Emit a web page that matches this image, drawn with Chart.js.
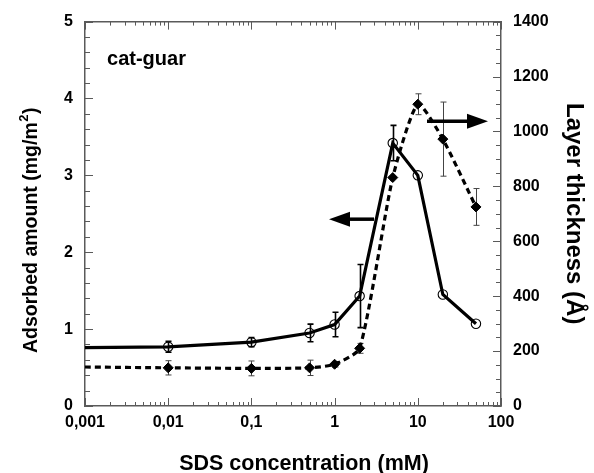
<!DOCTYPE html>
<html><head><meta charset="utf-8">
<script src="https://cdn.jsdelivr.net/npm/chart.js@4.4.1/dist/chart.umd.min.js"></script>
<style>html,body{margin:0;padding:0;background:#fff}#wrap{width:594px;height:473px;position:relative}</style>
</head><body><div id="wrap"><canvas id="c" width="594" height="473"></canvas></div>
<script>
// ---- data ----
const concentration = [0.001, 0.01, 0.1, 0.5, 1, 2, 5, 10, 20, 50];          // SDS, mM
const adsorbedAmount = [0.76, 0.77, 0.83, 0.95, 1.06, 1.43, 3.42, 3.00, 1.45, 1.07]; // mg/m2
const adsorbedError = [0, 0.07, 0.06, 0.115, 0.16, 0.41, 0.23, 0, 0, 0];
const layerThickness = [142, 139, 137, 139, 152, 210, 832, 1099, 972, 725];  // Å
const thicknessError = [0, 26, 27, 28, 10, 18, 0, 38, 135, 67];
const xTickValues = [0.001, 0.01, 0.1, 1, 10, 100];
const xTickLabels = ['0,001', '0,01', '0,1', '1', '10', '100'];
const yLeftTicks = [0, 1, 2, 3, 4, 5];
const yRightTicks = [0, 200, 400, 600, 800, 1000, 1200, 1400];
const yLeftMinorStep = 0.2;
const yRightMinorStep = 50;
// annotation arrows (data coordinates)
const leftArrowX = [2.98, 0.857], leftArrowY = 2.43;     // points to left axis
const rightArrowX = [12.9, 69.8], rightArrowY = 1037;    // points to right axis
const sampleLabel = 'cat-guar', sampleLabelAt = [0.00184, 4.44];

const FONT = '"Liberation Sans", Arial, Helvetica, sans-serif';
const FRAME = '#5a5a5a';

const decorations = {
  id: 'decorations',
  beforeDatasetsDraw(chart) {
    const {ctx, scales} = chart;
    const bars = (vals, errs, sc, color, lw) => {
      ctx.save(); ctx.strokeStyle = color; ctx.lineWidth = lw;
      vals.forEach((v, i) => {
        const e = errs[i]; if (!e) return;
        const px = Math.round(scales.x.getPixelForValue(concentration[i])) + 0.5;
        const t = scales[sc].getPixelForValue(v + e), b = scales[sc].getPixelForValue(v - e);
        ctx.beginPath();
        ctx.moveTo(px, t); ctx.lineTo(px, b);
        ctx.moveTo(px - 3, t); ctx.lineTo(px + 3, t);
        ctx.moveTo(px - 3, b); ctx.lineTo(px + 3, b);
        ctx.stroke();
      });
      ctx.restore();
    };
    bars(layerThickness, thicknessError, 'y2', '#444', 1);
    bars(adsorbedAmount, adsorbedError, 'y', '#000', 1.6);
  },
  afterDraw(chart) {
    const {ctx, chartArea: a, scales} = chart;
    ctx.save();
    // inward tick marks on all four sides
    ctx.strokeStyle = FRAME; ctx.lineWidth = 1;
    const hTick = (px, len) => {
      px = Math.round(px) + 0.5;
      ctx.beginPath();
      ctx.moveTo(px, a.bottom); ctx.lineTo(px, a.bottom - len);
      ctx.moveTo(px, a.top); ctx.lineTo(px, a.top + len);
      ctx.stroke();
    };
    for (let i = 0; i < xTickValues.length; i++) {
      hTick(scales.x.getPixelForValue(xTickValues[i]), 8);
      if (i < xTickValues.length - 1) {
        for (let m = 2; m <= 9; m++) hTick(scales.x.getPixelForValue(m * xTickValues[i]), 4);
      }
    }
    const vTick = (py, x0, dir, len) => {
      py = Math.round(py) + 0.5;
      ctx.beginPath(); ctx.moveTo(x0, py); ctx.lineTo(x0 + dir * len, py); ctx.stroke();
    };
    const yl = scales.y, yr = scales.y2;
    for (let v = yl.min; v <= yl.max + 1e-9; v += yLeftMinorStep) {
      const major = yLeftTicks.some(t => Math.abs(t - v) < 1e-6);
      vTick(yl.getPixelForValue(v), a.left, 1, major ? 8 : 5);
    }
    for (let v = yr.min; v <= yr.max + 1e-9; v += yRightMinorStep) {
      const major = yRightTicks.some(t => Math.abs(t - v) < 1e-6);
      vTick(yr.getPixelForValue(v), a.right, -1, major ? 8 : 5);
    }
    // arrows
    ctx.fillStyle = '#000'; ctx.strokeStyle = '#000';
    const arrow = (xs, yv, sc) => {
      const x0 = scales.x.getPixelForValue(xs[0]), x1 = scales.x.getPixelForValue(xs[1]);
      const y = scales[sc].getPixelForValue(yv);
      const dir = Math.sign(x1 - x0), head = 21, hw = 7.5;
      ctx.lineWidth = 3.5;
      ctx.beginPath(); ctx.moveTo(x0, y); ctx.lineTo(x1 - dir * head, y); ctx.stroke();
      ctx.beginPath(); ctx.moveTo(x1, y); ctx.lineTo(x1 - dir * head, y - hw); ctx.lineTo(x1 - dir * head, y + hw); ctx.closePath(); ctx.fill();
    };
    arrow(leftArrowX, leftArrowY, 'y');
    arrow(rightArrowX, rightArrowY, 'y2');
    // sample label
    ctx.fillStyle = '#000';
    ctx.font = 'bold 20px ' + FONT; ctx.textAlign = 'left'; ctx.textBaseline = 'alphabetic';
    ctx.fillText(sampleLabel, scales.x.getPixelForValue(sampleLabelAt[0]), scales.y.getPixelForValue(sampleLabelAt[1]));
    // axis titles
    ctx.font = 'bold 21.5px ' + FONT; ctx.textAlign = 'center';
    ctx.fillText('SDS concentration (mM)', 304, 470);
    // left title with superscript
    ctx.save();
    ctx.translate(37, 353); ctx.rotate(-Math.PI / 2);
    ctx.textAlign = 'left';
    ctx.font = 'bold 19.5px ' + FONT;
    const p1 = 'Adsorbed amount (mg/m';
    ctx.fillText(p1, 0, 0);
    let w = ctx.measureText(p1).width;
    ctx.font = 'bold 13px ' + FONT;
    ctx.fillText('2', w + 0.5, -9);
    w += ctx.measureText('2').width + 1;
    ctx.font = 'bold 19.5px ' + FONT;
    ctx.fillText(')', w, 0);
    ctx.restore();
    // right title
    ctx.save();
    ctx.translate(567, 103); ctx.rotate(Math.PI / 2);
    ctx.textAlign = 'left';
    ctx.font = 'bold 24px ' + FONT;
    ctx.fillText('Layer thickness (Å)', 0, 0);
    ctx.restore();
    ctx.restore();
  }
};

const tickFont = {family: FONT, size: 16, weight: 'bold'};
new Chart(document.getElementById('c'), {
  type: 'line',
  data: {
    datasets: [
      {
        label: 'Adsorbed amount',
        data: concentration.map((x, i) => ({x, y: adsorbedAmount[i]})),
        yAxisID: 'y',
        borderColor: '#000', borderWidth: 3.2, tension: 0,
        pointStyle: 'circle',
        pointRadius: c => c.dataIndex === 0 ? 0 : 4.7,
        pointBorderWidth: 1.1, pointBorderColor: '#000', pointBackgroundColor: 'rgba(0,0,0,0)'
      },
      {
        label: 'Layer thickness',
        data: concentration.map((x, i) => ({x, y: layerThickness[i]})),
        yAxisID: 'y2',
        borderColor: '#000', borderWidth: 3.2, borderDash: [6, 4], tension: 0.2,
        pointStyle: 'rectRot',
        pointRadius: c => c.dataIndex === 0 ? 0 : 5,
        pointBorderWidth: 1, pointBorderColor: '#000', pointBackgroundColor: '#000'
      }
    ]
  },
  options: {
    responsive: false, animation: false, devicePixelRatio: 1,
    layout: {padding: 0},
    plugins: {legend: {display: false}, tooltip: {enabled: false}},
    scales: {
      x: {
        type: 'logarithmic', position: 'bottom', min: 0.001, max: 100,
        grid: {display: false, drawTicks: false},
        border: {display: true, color: FRAME, width: 1.5},
        afterBuildTicks: s => { s.ticks = xTickValues.map(v => ({value: v})); },
        ticks: {
          autoSkip: false, maxRotation: 0, padding: 7, color: '#000', font: tickFont,
          callback: (v) => { const i = xTickValues.findIndex(t => Math.abs(t - v) / t < 1e-6); return i >= 0 ? xTickLabels[i] : ''; }
        },
        afterFit: s => { s.height = 67; }
      },
      x2: {
        type: 'logarithmic', position: 'top', min: 0.001, max: 100,
        grid: {display: false, drawTicks: false},
        border: {display: true, color: FRAME, width: 1.5},
        ticks: {display: false},
        afterFit: s => { s.height = 21; }
      },
      y: {
        type: 'linear', position: 'left', min: 0, max: 5,
        grid: {display: false, drawTicks: false},
        border: {display: true, color: FRAME, width: 1.5},
        afterBuildTicks: s => { s.ticks = yLeftTicks.map(v => ({value: v})); },
        ticks: {padding: 12, color: '#000', font: tickFont, callback: v => String(v)},
        afterFit: s => { s.width = 85; }
      },
      y2: {
        type: 'linear', position: 'right', min: 0, max: 1400,
        grid: {display: false, drawTicks: false},
        border: {display: true, color: FRAME, width: 1.5},
        afterBuildTicks: s => { s.ticks = yRightTicks.map(v => ({value: v})); },
        ticks: {padding: 12, color: '#000', font: tickFont, callback: v => String(v)},
        afterFit: s => { s.width = 93; }
      }
    }
  },
  plugins: [decorations]
});
</script></body></html>
